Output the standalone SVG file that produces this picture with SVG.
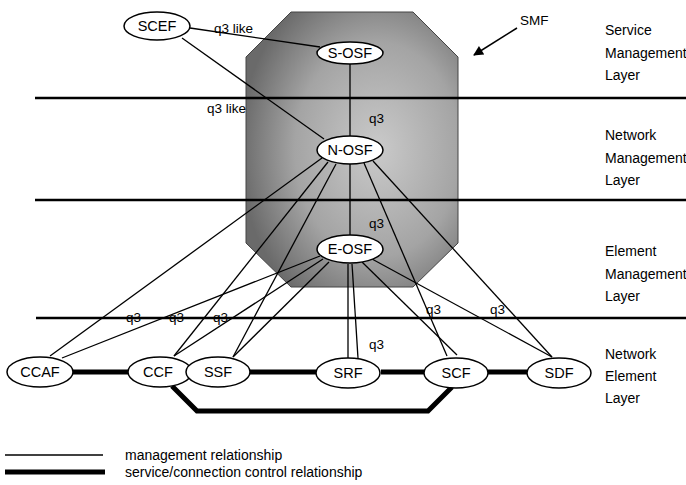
<svg xmlns="http://www.w3.org/2000/svg" width="686" height="485" viewBox="0 0 686 485">
<defs>
<radialGradient id="smfg" cx="0.62" cy="0.5" r="0.65">
<stop offset="0" stop-color="#cacaca"/>
<stop offset="0.6" stop-color="#a4a4a4"/>
<stop offset="1" stop-color="#6a6a6a"/>
</radialGradient>
<marker id="ah" viewBox="0 0 10 10" refX="9" refY="5" markerWidth="14" markerHeight="10" markerUnits="userSpaceOnUse" orient="auto">
<path d="M0,0 L10,5 L0,10 z" fill="#000"/>
</marker>
</defs>
<style>
text{font-family:"Liberation Sans",Arial,sans-serif;fill:#000}
.n{font-size:14.5px;text-anchor:middle}
.lbl{font-size:13.5px}
.leg{font-size:14px}
.lay{font-size:14px}
.node ellipse{fill:#fff;stroke:#000;stroke-width:1.5}
.m{stroke:#000;stroke-width:1.3;fill:none}
.s{stroke:#000;stroke-width:5;fill:none}
.layer{stroke:#000;stroke-width:2.5}
</style>

<g id="smf">
<polygon points="291,12 413,12 458,57 458,243 413,287 291,287 246,243 246,57" fill="url(#smfg)" stroke="#444" stroke-width="1"/>
</g>

<g id="layers">
<line class="layer" x1="35" y1="98" x2="686" y2="98"/>
<line class="layer" x1="35" y1="200" x2="686" y2="200"/>
<line class="layer" x1="36" y1="318" x2="686" y2="318"/>
</g>

<g id="connectors">
<line class="m" x1="190" y1="28" x2="320" y2="47"/>
<line class="m" x1="182" y1="38" x2="324" y2="139"/>
<line class="m" x1="350" y1="64" x2="350" y2="136"/>
<line class="m" x1="350" y1="164" x2="350" y2="235"/>
<line class="m" x1="322" y1="158" x2="50" y2="356"/>
<line class="m" x1="328" y1="162" x2="174" y2="356"/>
<line class="m" x1="336" y1="164" x2="233" y2="357"/>
<line class="m" x1="364" y1="163" x2="447" y2="356"/>
<line class="m" x1="373" y1="161" x2="552" y2="357"/>
<line class="m" x1="320" y1="256" x2="62" y2="358"/>
<line class="m" x1="323" y1="259" x2="174" y2="356"/>
<line class="m" x1="329" y1="262" x2="233" y2="357"/>
<line class="m" x1="348" y1="264" x2="348" y2="358"/>
<line class="m" x1="352" y1="264" x2="358" y2="358"/>
<line class="m" x1="362" y1="262" x2="457" y2="355"/>
<line class="m" x1="372" y1="259" x2="552" y2="357"/>
<line class="s" x1="72" y1="372" x2="128" y2="372"/>
<line class="s" x1="250" y1="372" x2="316" y2="372"/>
<line class="s" x1="381" y1="372" x2="424" y2="372"/>
<line class="s" x1="488" y1="372" x2="527" y2="372"/>
<polyline class="s" points="172,386 197,411 428,411 452,387"/>
<line x1="517" y1="28" x2="474" y2="55" stroke="#000" stroke-width="1.5" marker-end="url(#ah)"/>
</g>

<g id="SCEF" class="node"><ellipse cx="157" cy="26" rx="33" ry="14"/><text class="n" x="157" y="31">SCEF</text></g>
<g id="S-OSF" class="node"><ellipse cx="350" cy="53" rx="33" ry="11"/><text class="n" x="350" y="58">S-OSF</text></g>
<g id="N-OSF" class="node"><ellipse cx="350" cy="150" rx="33" ry="14"/><text class="n" x="350" y="155">N-OSF</text></g>
<g id="E-OSF" class="node"><ellipse cx="350" cy="249" rx="33" ry="14"/><text class="n" x="350" y="254">E-OSF</text></g>
<g id="CCAF" class="node"><ellipse cx="40" cy="372" rx="33" ry="15"/><text class="n" x="40" y="377">CCAF</text></g>
<g id="CCF" class="node"><ellipse cx="160" cy="372" rx="32" ry="15"/><text class="n" x="158" y="377">CCF</text></g>
<g id="SSF" class="node"><ellipse cx="218" cy="372" rx="32" ry="15"/><text class="n" x="218" y="377">SSF</text></g>
<g id="SRF" class="node"><ellipse cx="348" cy="373" rx="32" ry="15"/><text class="n" x="348" y="378">SRF</text></g>
<g id="SCF" class="node"><ellipse cx="456" cy="373" rx="32" ry="15"/><text class="n" x="456" y="378">SCF</text></g>
<g id="SDF" class="node"><ellipse cx="559" cy="373" rx="32" ry="15"/><text class="n" x="559" y="378">SDF</text></g>

<g id="labels">
<text class="lbl" x="214" y="33">q3 like</text>
<text class="lbl" x="207" y="113">q3 like</text>
<text class="lbl" x="369" y="123">q3</text>
<text class="lbl" x="369" y="228">q3</text>
<text class="lbl" x="126" y="322">q3</text>
<text class="lbl" x="169" y="322">q3</text>
<text class="lbl" x="213" y="322">q3</text>
<text class="lbl" x="426" y="314">q3</text>
<text class="lbl" x="490" y="314">q3</text>
<text class="lbl" x="369" y="349">q3</text>
<text class="lbl" x="520" y="25">SMF</text>
</g>

<g id="layer-names">
<text class="lay" x="605" y="35">Service</text>
<text class="lay" x="605" y="58">Management</text>
<text class="lay" x="605" y="80">Layer</text>
<text class="lay" x="605" y="140">Network</text>
<text class="lay" x="605" y="163">Management</text>
<text class="lay" x="605" y="185">Layer</text>
<text class="lay" x="605" y="256">Element</text>
<text class="lay" x="605" y="279">Management</text>
<text class="lay" x="605" y="301">Layer</text>
<text class="lay" x="605" y="359">Network</text>
<text class="lay" x="605" y="381">Element</text>
<text class="lay" x="605" y="403">Layer</text>
</g>

<g id="legend">
<line class="m" x1="5" y1="455" x2="103" y2="455"/>
<line class="s" x1="5" y1="472" x2="105" y2="472"/>
<text class="leg" x="125" y="460">management relationship</text>
<text class="leg" x="125" y="477">service/connection control relationship</text>
</g>
</svg>
